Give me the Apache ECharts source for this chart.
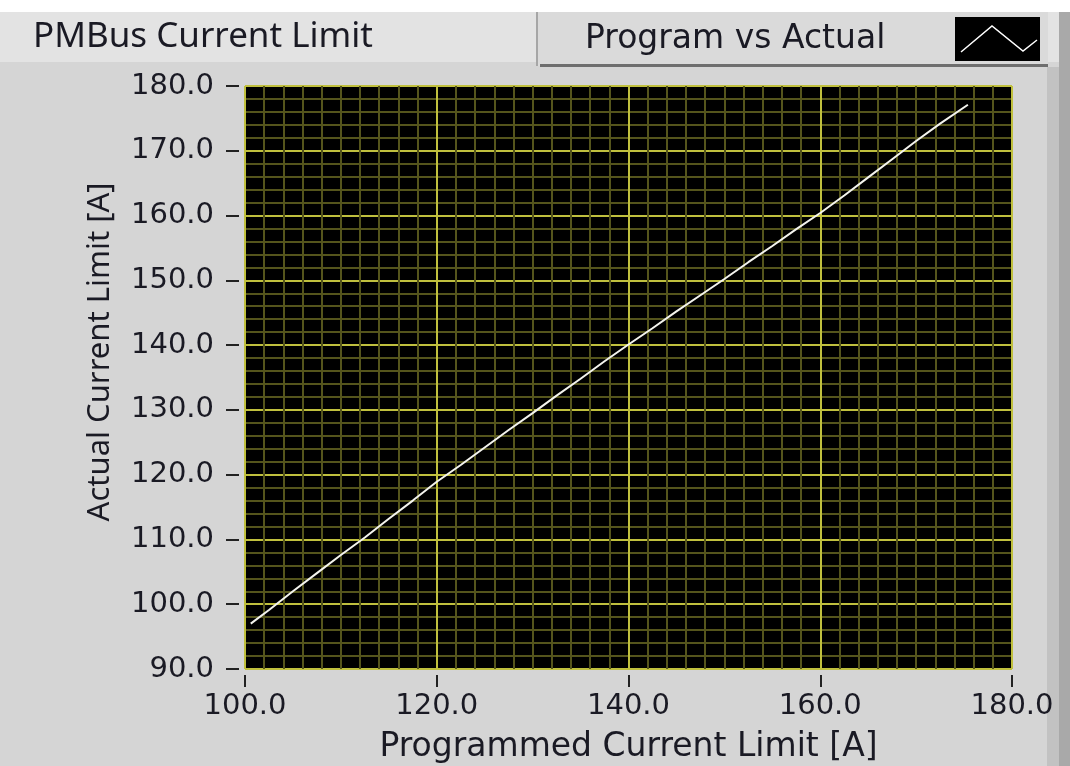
<!DOCTYPE html>
<html>
<head>
<meta charset="utf-8">
<script src="https://cdn.jsdelivr.net/npm/echarts@6/dist/echarts.min.js"></script>
<style>
  html, body { margin: 0; padding: 0; background: #d5d5d5; }
  #chart { width: 1070px; height: 766px; }
</style>
</head>
<body>
<div id="chart"></div>
<script>
// Programmed vs. actual PMBus current limit, in amperes
const programmed = [100.6, 102.5, 105.0, 107.5, 110.0, 112.5, 115.0, 117.5, 120.0, 122.5,
                    125.0, 127.5, 130.0, 132.5, 135.0, 137.5, 140.0, 142.5, 145.0, 147.5,
                    150.0, 152.5, 155.0, 157.5, 160.0, 162.5, 165.0, 167.5, 170.0, 172.5, 175.4];
const actual     = [97.0, 99.1, 102.0, 104.8, 107.6, 110.3, 113.2, 116.0, 118.9, 121.5,
                    124.2, 126.9, 129.5, 132.2, 134.8, 137.5, 140.1, 142.6, 145.2, 147.7,
                    150.2, 152.8, 155.3, 157.9, 160.4, 163.1, 165.9, 168.7, 171.5, 174.2, 177.1];

const panelTitle = 'PMBus Current Limit';
const plotLegend = 'Program vs Actual';
const xName = 'Programmed Current Limit [A]';
const yName = 'Actual Current Limit [A]';
const xRange = [100, 180];
const yRange = [90, 180];

const chart = echarts.init(document.getElementById('chart'));

const textColor = '#1a1a24';
const majorGrid = '#c0c03e';
const minorGrid = '#55551c';

chart.setOption({
  backgroundColor: '#d5d5d5',
  animation: false,
  grid: {
    left: 245, right: 58, top: 86, bottom: 97,
    outerBoundsMode: 'none', containLabel: false,
    show: true, backgroundColor: '#000000', borderColor: '#9a9a9a', borderWidth: 1
  },
  xAxis: {
    type: 'value', min: xRange[0], max: xRange[1], interval: 20,
    offset: 6,
    axisLine: { show: false },
    axisTick: { show: true, length: 12, lineStyle: { color: '#222', width: 2 } },
    axisLabel: {
      margin: 17, color: textColor, fontFamily: 'DejaVu Sans', fontSize: 29,
      formatter: v => v.toFixed(1)
    },
    splitLine: { show: true, lineStyle: { color: majorGrid, width: 2 } },
    minorTick: { show: false, splitNumber: 10 },
    minorSplitLine: { show: true, lineStyle: { color: minorGrid, width: 2 } },
    name: xName, nameLocation: 'middle', nameGap: 56,
    nameTextStyle: { color: textColor, fontFamily: 'DejaVu Sans', fontSize: 33 }
  },
  yAxis: {
    type: 'value', min: yRange[0], max: yRange[1], interval: 10,
    offset: 6,
    axisLine: { show: false },
    axisTick: { show: true, length: 13, lineStyle: { color: '#222', width: 2 } },
    axisLabel: {
      margin: 25, color: textColor, fontFamily: 'DejaVu Sans', fontSize: 29,
      formatter: v => v.toFixed(1)
    },
    splitLine: { show: true, lineStyle: { color: majorGrid, width: 2 } },
    minorTick: { show: false, splitNumber: 5 },
    minorSplitLine: { show: true, lineStyle: { color: minorGrid, width: 2 } }
  },
  series: [{
    type: 'line',
    data: programmed.map((x, i) => [x, actual[i]]),
    showSymbol: false,
    lineStyle: { color: '#f4f4ee', width: 2 },
    z: 5
  }],
  graphic: [
    // white strip along the top edge
    { type: 'rect', left: 0, top: 0, shape: { width: 1070, height: 12 }, style: { fill: '#ffffff' }, z: 100 },
    // header band
    { type: 'rect', left: 0, top: 12, shape: { width: 1070, height: 50 }, style: { fill: '#e3e3e3' }, z: 100 },
    { type: 'text', left: 33, top: 20, style: { text: panelTitle, fill: textColor, font: '35px "Noto Sans"' }, z: 101 },
    // legend box
    { type: 'rect', left: 536, top: 12, shape: { width: 512, height: 54 }, style: { fill: '#dadada' }, z: 101 },
    { type: 'rect', left: 536, top: 12, shape: { width: 2, height: 54 }, style: { fill: '#a6a6a6' }, z: 102 },
    { type: 'rect', left: 540, top: 64, shape: { width: 508, height: 3 }, style: { fill: '#6e6e6e' }, z: 102 },
    { type: 'text', left: 585, top: 23, style: { text: plotLegend, fill: textColor, font: '33px "DejaVu Sans"' }, z: 102 },
    { type: 'rect', left: 955, top: 17, shape: { width: 85, height: 44 }, style: { fill: '#000000' }, z: 102 },
    { type: 'polyline', shape: { points: [[961, 52], [992, 26], [1023, 51], [1037, 40]] }, style: { stroke: '#ffffff', lineWidth: 1.5, fill: null }, z: 103 },
    // right-hand frame strip, kept beneath the axis labels
    { type: 'rect', left: 1047, top: 67, shape: { width: 12, height: 699 }, style: { fill: '#c2c2c2' }, z: -1 },
    { type: 'rect', left: 1059, top: 67, shape: { width: 11, height: 699 }, style: { fill: '#a9a9a9' }, z: -1 },
    { type: 'rect', left: 1059, top: 12, shape: { width: 11, height: 55 }, style: { fill: '#a9a9a9' }, z: 101 },
    // vertical axis title
    { type: 'text', x: 100, y: 352, rotation: Math.PI / 2,
      style: { text: yName, fill: textColor, font: '31px "Noto Sans"', align: 'center', verticalAlign: 'middle' }, z: 101 }
  ]
});
</script>
</body>
</html>
